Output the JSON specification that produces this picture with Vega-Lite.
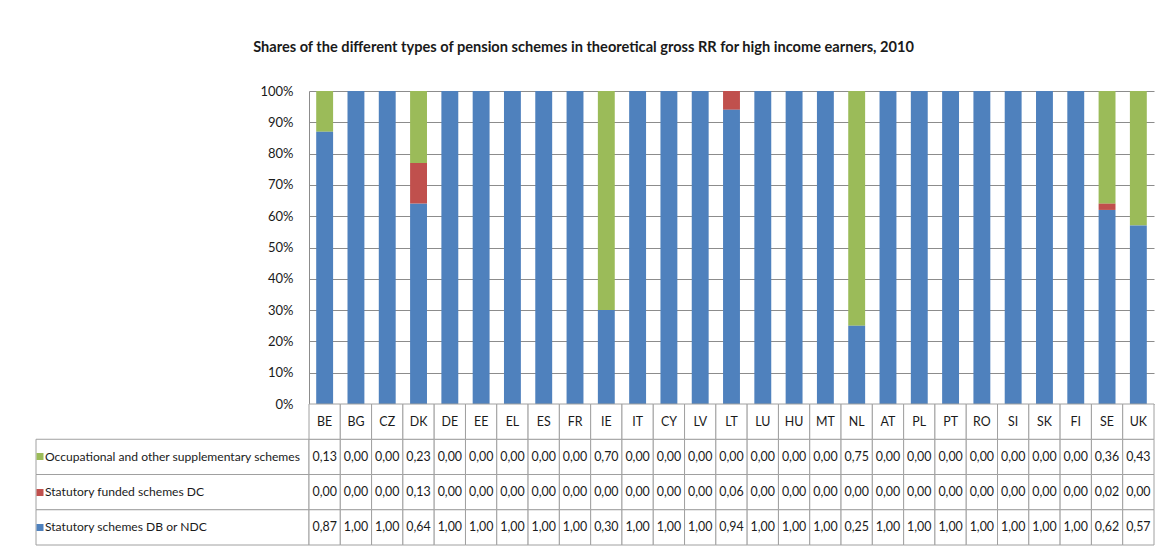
{
  "$schema": "https://vega.github.io/schema/vega-lite/v6.json",
  "padding": {"left": 32, "top": 40, "right": 8, "bottom": 6},
  "title": {"text": "Shares of the different types of pension schemes in theoretical gross RR for high income earners, 2010", "fontSize": 14.6, "font": "Lato", "fontWeight": "bold", "offset": 30, "anchor": "middle", "dx": -10, "color": "#1a1a1a"},
  "datasets": {
    "pen": [
      {"c": "BE", "Occupational and other supplementary schemes": 0.13, "Statutory funded schemes DC": 0.00, "Statutory schemes DB or NDC": 0.87},
      {"c": "BG", "Occupational and other supplementary schemes": 0.00, "Statutory funded schemes DC": 0.00, "Statutory schemes DB or NDC": 1.00},
      {"c": "CZ", "Occupational and other supplementary schemes": 0.00, "Statutory funded schemes DC": 0.00, "Statutory schemes DB or NDC": 1.00},
      {"c": "DK", "Occupational and other supplementary schemes": 0.23, "Statutory funded schemes DC": 0.13, "Statutory schemes DB or NDC": 0.64},
      {"c": "DE", "Occupational and other supplementary schemes": 0.00, "Statutory funded schemes DC": 0.00, "Statutory schemes DB or NDC": 1.00},
      {"c": "EE", "Occupational and other supplementary schemes": 0.00, "Statutory funded schemes DC": 0.00, "Statutory schemes DB or NDC": 1.00},
      {"c": "EL", "Occupational and other supplementary schemes": 0.00, "Statutory funded schemes DC": 0.00, "Statutory schemes DB or NDC": 1.00},
      {"c": "ES", "Occupational and other supplementary schemes": 0.00, "Statutory funded schemes DC": 0.00, "Statutory schemes DB or NDC": 1.00},
      {"c": "FR", "Occupational and other supplementary schemes": 0.00, "Statutory funded schemes DC": 0.00, "Statutory schemes DB or NDC": 1.00},
      {"c": "IE", "Occupational and other supplementary schemes": 0.70, "Statutory funded schemes DC": 0.00, "Statutory schemes DB or NDC": 0.30},
      {"c": "IT", "Occupational and other supplementary schemes": 0.00, "Statutory funded schemes DC": 0.00, "Statutory schemes DB or NDC": 1.00},
      {"c": "CY", "Occupational and other supplementary schemes": 0.00, "Statutory funded schemes DC": 0.00, "Statutory schemes DB or NDC": 1.00},
      {"c": "LV", "Occupational and other supplementary schemes": 0.00, "Statutory funded schemes DC": 0.00, "Statutory schemes DB or NDC": 1.00},
      {"c": "LT", "Occupational and other supplementary schemes": 0.00, "Statutory funded schemes DC": 0.06, "Statutory schemes DB or NDC": 0.94},
      {"c": "LU", "Occupational and other supplementary schemes": 0.00, "Statutory funded schemes DC": 0.00, "Statutory schemes DB or NDC": 1.00},
      {"c": "HU", "Occupational and other supplementary schemes": 0.00, "Statutory funded schemes DC": 0.00, "Statutory schemes DB or NDC": 1.00},
      {"c": "MT", "Occupational and other supplementary schemes": 0.00, "Statutory funded schemes DC": 0.00, "Statutory schemes DB or NDC": 1.00},
      {"c": "NL", "Occupational and other supplementary schemes": 0.75, "Statutory funded schemes DC": 0.00, "Statutory schemes DB or NDC": 0.25},
      {"c": "AT", "Occupational and other supplementary schemes": 0.00, "Statutory funded schemes DC": 0.00, "Statutory schemes DB or NDC": 1.00},
      {"c": "PL", "Occupational and other supplementary schemes": 0.00, "Statutory funded schemes DC": 0.00, "Statutory schemes DB or NDC": 1.00},
      {"c": "PT", "Occupational and other supplementary schemes": 0.00, "Statutory funded schemes DC": 0.00, "Statutory schemes DB or NDC": 1.00},
      {"c": "RO", "Occupational and other supplementary schemes": 0.00, "Statutory funded schemes DC": 0.00, "Statutory schemes DB or NDC": 1.00},
      {"c": "SI", "Occupational and other supplementary schemes": 0.00, "Statutory funded schemes DC": 0.00, "Statutory schemes DB or NDC": 1.00},
      {"c": "SK", "Occupational and other supplementary schemes": 0.00, "Statutory funded schemes DC": 0.00, "Statutory schemes DB or NDC": 1.00},
      {"c": "FI", "Occupational and other supplementary schemes": 0.00, "Statutory funded schemes DC": 0.00, "Statutory schemes DB or NDC": 1.00},
      {"c": "SE", "Occupational and other supplementary schemes": 0.36, "Statutory funded schemes DC": 0.02, "Statutory schemes DB or NDC": 0.62},
      {"c": "UK", "Occupational and other supplementary schemes": 0.43, "Statutory funded schemes DC": 0.00, "Statutory schemes DB or NDC": 0.57}
    ]
  },
  "columns": 2,
  "spacing": 0,
  "bounds": "flush",
  "concat": [
    {
      "width": 273, "height": 313,
      "data": {"values": [{"t": ""}]},
      "mark": {"type": "text"},
      "encoding": {"text": {"field": "t"}}
    },
    {
      "width": 845, "height": 313,
      "data": {"name": "pen"},
      "transform": [{"fold": ["Occupational and other supplementary schemes", "Statutory funded schemes DC", "Statutory schemes DB or NDC"], "as": ["scheme", "value"]}],
      "mark": {"type": "bar"},
      "encoding": {
        "x": {"field": "c", "type": "nominal", "scale": {"domain": ["BE","BG","CZ","DK","DE","EE","EL","ES","FR","IE","IT","CY","LV","LT","LU","HU","MT","NL","AT","PL","PT","RO","SI","SK","FI","SE","UK"], "paddingInner": 0.46, "paddingOuter": 0.23}, "axis": null},
        "y": {"field": "value", "type": "quantitative", "stack": "zero", "scale": {"domain": [0, 1], "nice": false}, "axis": {"format": ".0%", "values": [0, 0.1, 0.2, 0.3, 0.4, 0.5, 0.6, 0.7, 0.8, 0.9, 1], "title": null, "ticks": false, "labelPadding": 16, "gridColor": "#8c8c8c", "gridOpacity": 1, "domainColor": "#8c8c8c"}},
        "color": {"field": "scheme", "type": "nominal", "scale": {"domain": ["Occupational and other supplementary schemes", "Statutory funded schemes DC", "Statutory schemes DB or NDC"], "range": ["#9BBB59", "#C0504D", "#4F81BD"]}, "legend": null},
        "order": {"field": "scheme", "sort": "descending"}
      }
    },
    {
      "width": 273, "height": 141,
      "data": {"name": "pen"},
      "transform": [{"fold": ["Occupational and other supplementary schemes", "Statutory funded schemes DC", "Statutory schemes DB or NDC"], "as": ["scheme", "value"]}, {"filter": "datum.c === 'BE'"}],
      "mark": {"type": "rect", "fill": "white", "stroke": "#a0a0a0", "strokeWidth": 1},
      "encoding": {
        "y": {"field": "scheme", "type": "nominal", "scale": {"domain": ["hdr", "Occupational and other supplementary schemes", "Statutory funded schemes DC", "Statutory schemes DB or NDC"], "paddingInner": 0, "paddingOuter": 0},
          "axis": {"title": null, "orient": "left", "values": ["Occupational and other supplementary schemes", "Statutory funded schemes DC", "Statutory schemes DB or NDC"], "domain": false, "grid": false, "ticks": true, "tickSize": -7, "tickWidth": 7, "tickCap": "butt",
            "tickColor": {"condition": [{"test": "datum.value === 'Occupational and other supplementary schemes'", "value": "#9BBB59"}, {"test": "datum.value === 'Statutory funded schemes DC'", "value": "#C0504D"}], "value": "#4F81BD"},
            "labelAlign": "left", "labelPadding": -1.5, "labelLimit": 400, "labelFontSize": 12.1}}
      }
    },
    {
      "width": 845, "height": 141,
      "data": {"name": "pen"},
      "transform": [{"fold": ["Occupational and other supplementary schemes", "Statutory funded schemes DC", "Statutory schemes DB or NDC"], "as": ["scheme", "value"]}],
      "encoding": {
        "x": {"field": "c", "type": "nominal", "scale": {"domain": ["BE","BG","CZ","DK","DE","EE","EL","ES","FR","IE","IT","CY","LV","LT","LU","HU","MT","NL","AT","PL","PT","RO","SI","SK","FI","SE","UK"], "paddingInner": 0, "paddingOuter": 0}, "axis": null}
      },
      "layer": [
        {"mark": {"type": "rect", "fill": "white", "stroke": "#a0a0a0", "strokeWidth": 1},
         "encoding": {"y": {"field": "scheme", "type": "nominal", "scale": {"domain": ["hdr", "Occupational and other supplementary schemes", "Statutory funded schemes DC", "Statutory schemes DB or NDC"], "paddingInner": 0, "paddingOuter": 0}, "axis": null}}},
        {"transform": [{"filter": "datum.scheme === 'Statutory schemes DB or NDC'"}],
         "mark": {"type": "rect", "fill": "white", "stroke": "#a0a0a0", "strokeWidth": 1},
         "encoding": {"y": {"datum": "hdr", "type": "nominal"}}},
        {"mark": {"type": "text", "fontSize": 12.4, "color": "#1a1a1a"},
         "encoding": {"y": {"field": "scheme", "type": "nominal"}, "text": {"field": "value", "type": "quantitative", "format": ".2f"}}},
        {"transform": [{"filter": "datum.scheme === 'Statutory schemes DB or NDC'"}],
         "mark": {"type": "text", "fontSize": 12.4, "color": "#1a1a1a"},
         "encoding": {"y": {"datum": "hdr", "type": "nominal"}, "text": {"field": "c", "type": "nominal"}}}
      ]
    }
  ],
  "config": {
    "font": "Lato",
    "view": {"stroke": null},
    "locale": {"number": {"decimal": ",", "thousands": ".", "grouping": [3], "currency": ["", " €"]}},
    "axis": {"labelFont": "Lato", "labelFontSize": 13, "labelColor": "#1a1a1a"},
    "text": {"font": "Lato"}
  }
}
